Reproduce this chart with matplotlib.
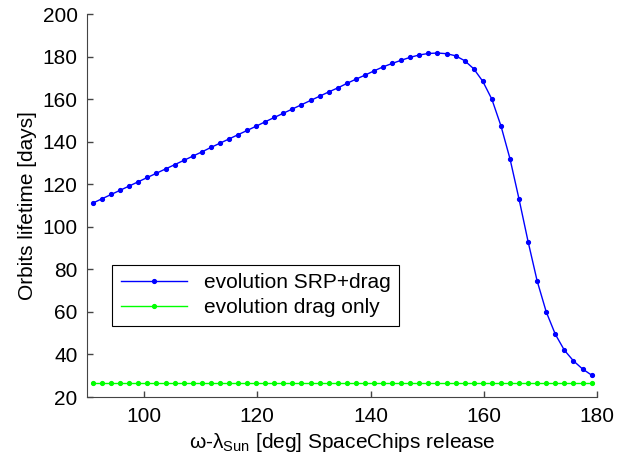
import matplotlib
matplotlib.use('Agg')
import matplotlib.pyplot as plt

plt.rcParams['font.family'] = ['Liberation Sans', 'DejaVu Sans']
plt.rcParams['mathtext.default'] = 'regular'

# release angle omega - lambda_Sun [deg]
angle = [91.0, 92.6, 94.2, 95.8, 97.4, 99.0, 100.6, 102.2, 103.8, 105.4,
         107.0, 108.6, 110.2, 111.8, 113.4, 115.0, 116.6, 118.2, 119.8, 121.4,
         123.0, 124.6, 126.2, 127.8, 129.4, 131.0, 132.6, 134.2, 135.8, 137.4,
         139.0, 140.6, 142.2, 143.8, 145.4, 147.0, 148.6, 150.2, 151.8, 153.4,
         155.0, 156.6, 158.2, 159.8, 161.4, 163.0, 164.6, 166.2, 167.8, 169.4,
         171.0, 172.6, 174.2, 175.8, 177.4, 179.0]

# orbit lifetime [days]
life_srp_drag = [111.2, 113.2, 115.2, 117.2, 119.2, 121.2, 123.2, 125.2, 127.2, 129.2,
                 131.2, 133.2, 135.2, 137.3, 139.3, 141.3, 143.3, 145.3, 147.3, 149.4,
                 151.4, 153.4, 155.4, 157.4, 159.4, 161.4, 163.4, 165.3, 167.4, 169.4,
                 171.3, 173.3, 175.2, 176.8, 178.3, 179.7, 180.8, 181.5, 181.7, 181.4,
                 180.4, 178.1, 174.3, 168.4, 160.0, 147.5, 132.0, 113.0, 93.0, 74.5,
                 60.0, 49.5, 42.0, 37.0, 33.2, 30.3]
life_drag_only = [26.7] * len(angle)

xticks = [100, 120, 140, 160, 180]
yticks = [20, 40, 60, 80, 100, 120, 140, 160, 180, 200]

fig = plt.figure(figsize=(6.3, 4.61), dpi=100)
ax = fig.add_axes([0.1386, 0.1388, 0.948 - 0.1386, 0.9694 - 0.1388])

ax.plot(angle, life_srp_drag, '.-', color='#0000ff', lw=1, ms=5.5,
        label='evolution SRP+drag')
ax.plot(angle, life_drag_only, '.-', color='#00ff00', lw=1, ms=5.5,
        label='evolution drag only')

ax.set_xlim(90, 180)
ax.set_ylim(20, 200)
ax.set_xticks(xticks)
ax.set_yticks(yticks)

for s in ['top', 'right']:
    ax.spines[s].set_visible(False)
for s in ['left', 'bottom']:
    ax.spines[s].set_color('#444444')
ax.tick_params(direction='in', length=4, width=1, color='#444444',
               labelsize=15, pad=7)

ax.set_xlabel(r'ω-λ$_{Sun}$ [deg] SpaceChips release', fontsize=15)
ax.set_ylabel('Orbits lifetime [days]', fontsize=15)

leg = ax.legend(loc='upper left', bbox_to_anchor=(0.049, 0.345), fontsize=15,
                numpoints=1, handlelength=3.2, fancybox=False, framealpha=1,
                borderpad=0.4, labelspacing=0.3, borderaxespad=0)
leg.get_frame().set_edgecolor('black')
leg.get_frame().set_linewidth(0.8)

fig.savefig('out.png', dpi=100)
